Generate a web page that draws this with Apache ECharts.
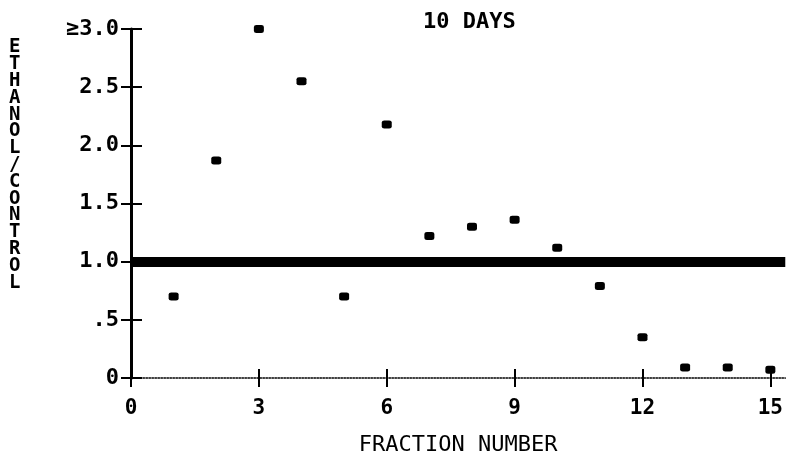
<!DOCTYPE html>
<html><head><meta charset="utf-8">
<script src="https://cdn.jsdelivr.net/npm/echarts@6/dist/echarts.min.js"></script>
<style>html,body{margin:0;padding:0;background:#fff}#c{width:786px;height:463px}</style>
</head><body><div id="c"></div>
<script>
const fractions = [1,2,3,4,5,6,7,8,9,10,11,12,13,14,15];
const ratios = [0.70,1.87,3.0,2.55,0.70,2.18,1.22,1.30,1.36,1.12,0.79,0.35,0.09,0.09,0.07];
const referenceLevel = 1.0;
const xTickValues = [0,3,6,9,12,15];
const yTickLabels = {0:'0',0.5:'.5',1:'1.0',1.5:'1.5',2:'2.0',2.5:'2.5',3:'\u22653.0'};
const titleText = '10 DAYS';
const xName = 'FRACTION NUMBER';
const yName = 'ETHANOL/CONTROL';

const FONT = 'DejaVu Sans Mono';
const chart = echarts.init(document.getElementById('c'));
chart.setOption({
  backgroundColor:'#fff',
  animation:false,
  title:{text:titleText,left:418,top:6,textStyle:{fontFamily:FONT,fontSize:22,fontWeight:'bold',color:'#000'}},
  graphic:[{type:'text',left:9,top:38,
    style:{text:yName.split('').join('\n'),fontFamily:FONT,fontSize:19,fontWeight:'bold',
      lineHeight:16.8,fill:'#000',align:'left'}}],
  grid:{left:131,right:0,top:29,bottom:85},
  xAxis:[
    {type:'value',min:0,max:15.35,
     axisLine:{lineStyle:{color:'#000',width:1.5,type:'dotted'}},
     axisTick:{show:true,length:9,customValues:xTickValues,lineStyle:{color:'#000',width:2}},
     axisLabel:{fontFamily:FONT,fontSize:21,fontWeight:'bold',color:'#000',margin:20,customValues:xTickValues},
     splitLine:{show:false},
     name:xName,nameLocation:'middle',nameGap:56,
     nameTextStyle:{fontFamily:FONT,fontSize:22,color:'#000'}},
    {type:'value',min:0,max:15.35,position:'bottom',
     axisLine:{show:false},
     axisTick:{show:true,inside:true,length:9,customValues:xTickValues,lineStyle:{color:'#000',width:2}},
     axisLabel:{show:false},splitLine:{show:false}}
  ],
  yAxis:[
    {type:'value',min:0,max:3,interval:0.5,
     axisLine:{show:true,lineStyle:{color:'#000',width:3}},
     axisTick:{show:true,length:10,lineStyle:{color:'#000',width:2}},
     axisLabel:{fontFamily:FONT,fontSize:22,fontWeight:'bold',color:'#000',margin:12,
       formatter:v=>yTickLabels[v] ?? ''},
     splitLine:{show:false}},
    {type:'value',min:0,max:3,interval:0.5,position:'left',
     axisLine:{show:false},
     axisTick:{show:true,inside:true,length:11,lineStyle:{color:'#000',width:2}},
     axisLabel:{show:false},splitLine:{show:false}}
  ],
  series:[{
    type:'scatter',clip:false,
    data:fractions.map((f,i)=>[f,ratios[i]]),
    symbol:'roundRect',symbolSize:[10,8],
    itemStyle:{color:'#000',opacity:1},
    markLine:{silent:true,symbol:['none','none'],label:{show:false},
      lineStyle:{color:'#000',width:10,type:'solid',opacity:1},
      data:[{yAxis:referenceLevel}]}
  }]
});
</script></body></html>
